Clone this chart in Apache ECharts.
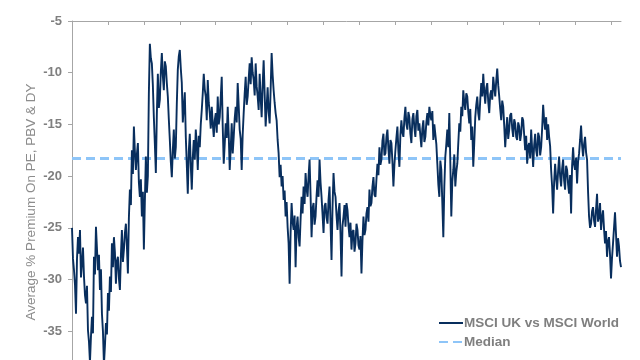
<!DOCTYPE html>
<html>
<head>
<meta charset="utf-8">
<script src="https://cdn.jsdelivr.net/npm/echarts@6/dist/echarts.min.js"></script>
<style>
html,body{margin:0;padding:0;background:#fff;}
#chart{width:640px;height:360px;}
</style>
</head>
<body>
<div id="chart"></div>
<script>
// Series values, one per period
var ukVsWorld = [
-25.0,-28.0,-29.1,-30.5,-33.3,-28.0,-25.9,-27.5,-25.2,-29.8,
-28.4,-26.9,-29.7,-31.5,-32.3,-30.6,-34.9,-36.0,-38.0,-35.5,
-33.6,-35.2,-27.8,-29.5,-24.9,-27.0,-29.1,-27.6,-31.0,-29.0,
-33.3,-35.0,-38.2,-36.4,-34.2,-35.3,-31.3,-33.0,-29.7,-31.2,
-26.5,-28.8,-25.9,-27.4,-30.4,-28.2,-27.8,-29.9,-31.0,-27.6,
-25.2,-28.3,-27.1,-25.5,-24.6,-26.8,-29.4,-24.0,-21.3,-22.8,
-17.5,-19.8,-15.2,-17.6,-19.4,-17.9,-16.8,-20.6,-22.0,-20.3,
-23.9,-21.5,-27.1,-22.4,-18.1,-21.6,-20.0,-12.0,-7.2,-8.6,
-9.1,-11.2,-14.3,-16.9,-19.7,-14.0,-10.1,-13.4,-12.6,-9.9,
-8.1,-10.3,-11.7,-8.9,-9.4,-11.0,-12.3,-14.5,-16.5,-18.6,
-20.1,-17.5,-15.5,-18.3,-17.2,-13.0,-9.7,-8.4,-7.8,-9.6,
-11.0,-14.8,-13.3,-11.9,-16.2,-18.9,-21.7,-17.6,-15.9,-19.0,
-21.3,-18.2,-16.5,-18.4,-15.5,-17.0,-19.4,-16.1,-17.2,-15.0,
-13.6,-12.0,-10.1,-11.6,-12.3,-14.6,-10.7,-12.9,-13.9,-15.4,
-13.3,-14.9,-16.2,-14.6,-13.9,-15.8,-12.3,-15.0,-14.3,-12.4,
-10.4,-15.2,-18.8,-16.9,-14.9,-16.3,-13.3,-15.9,-19.4,-17.3,
-14.9,-17.8,-16.2,-14.4,-13.3,-14.8,-11.0,-13.2,-15.5,-16.4,
-19.4,-16.0,-13.9,-12.0,-10.4,-13.1,-12.3,-10.6,-9.1,-11.1,
-8.5,-10.0,-10.7,-12.2,-9.1,-11.3,-12.3,-13.6,-10.1,-12.4,
-14.3,-11.2,-8.8,-12.0,-15.2,-13.3,-11.4,-13.8,-14.9,-11.6,
-8.1,-10.2,-11.7,-12.9,-13.9,-14.6,-16.5,-17.8,-20.1,-18.9,
-21.0,-20.0,-22.3,-21.4,-23.9,-22.5,-24.9,-26.5,-30.4,-25.5,
-22.6,-24.4,-25.2,-23.8,-28.8,-25.0,-23.9,-25.9,-26.8,-24.2,
-22.0,-23.6,-21.0,-22.7,-19.7,-21.2,-22.0,-20.0,-18.4,-21.8,
-25.9,-23.1,-22.6,-24.7,-23.9,-21.9,-20.4,-22.0,-18.4,-20.6,
-22.0,-23.7,-25.5,-22.9,-22.6,-24.0,-24.6,-22.3,-21.0,-24.5,
-28.1,-23.0,-19.7,-21.5,-22.0,-23.8,-25.2,-23.4,-22.6,-25.6,
-29.7,-24.8,-23.9,-22.8,-24.9,-22.6,-23.3,-24.8,-25.9,-24.5,
-27.1,-25.4,-25.2,-27.3,-26.5,-24.6,-25.2,-26.7,-27.1,-25.8,
-29.4,-26.2,-23.9,-25.7,-25.2,-23.6,-23.0,-24.4,-21.3,-22.9,
-22.6,-21.0,-20.1,-21.8,-22.0,-20.3,-18.8,-19.9,-17.2,-18.9,
-18.4,-16.6,-15.9,-18.0,-17.8,-16.2,-15.5,-17.4,-18.8,-16.5,
-16.8,-18.6,-21.0,-18.9,-17.5,-16.3,-15.2,-17.6,-19.1,-16.0,
-14.6,-15.8,-16.2,-14.4,-13.3,-15.0,-15.5,-13.8,-14.3,-15.9,
-16.8,-14.5,-13.9,-15.3,-16.2,-14.2,-13.6,-15.6,-14.9,-16.1,
-17.2,-15.4,-14.6,-16.7,-16.2,-14.8,-13.9,-15.1,-13.3,-14.1,
-14.6,-13.7,-16.5,-15.0,-14.9,-16.9,-18.8,-20.8,-22.0,-18.5,
-19.4,-22.6,-25.9,-21.0,-18.1,-16.9,-15.5,-17.2,-13.9,-18.6,
-23.9,-20.5,-19.4,-17.9,-21.0,-19.6,-18.8,-16.8,-14.9,-15.7,
-13.3,-14.2,-11.7,-12.9,-13.6,-12.0,-12.3,-13.8,-14.9,-13.5,
-16.5,-15.2,-19.1,-16.8,-14.3,-13.1,-12.3,-13.9,-14.6,-12.6,
-11.0,-12.3,-10.1,-11.8,-13.0,-11.5,-11.0,-12.8,-13.9,-12.1,
-11.7,-12.6,-10.4,-11.4,-12.3,-10.8,-9.6,-11.2,-12.3,-13.5,
-14.6,-12.7,-13.3,-15.1,-17.2,-15.6,-14.3,-16.4,-15.5,-14.1,
-13.9,-15.4,-16.2,-14.5,-14.9,-16.2,-16.5,-14.8,-15.2,-16.6,
-15.9,-14.3,-14.6,-16.0,-17.5,-16.1,-18.8,-17.1,-16.8,-18.3,
-15.5,-17.4,-19.1,-17.0,-15.9,-17.5,-18.1,-15.8,-16.2,-18.0,
-17.2,-15.4,-13.1,-14.6,-15.5,-14.3,-16.5,-15.0,-16.2,-17.1,
-19.4,-21.0,-23.6,-20.6,-18.8,-20.2,-21.3,-19.5,-18.1,-20.0,
-21.0,-19.3,-18.4,-20.4,-21.3,-19.0,-19.4,-20.8,-21.7,-19.9,
-23.6,-19.0,-17.2,-18.9,-19.4,-18.2,-20.7,-18.6,-17.8,-16.5,
-15.1,-17.0,-18.1,-16.9,-16.2,-17.7,-18.4,-21.5,-23.9,-25.0,
-24.6,-23.4,-23.0,-24.3,-24.9,-23.2,-21.7,-24.4,-23.9,-22.6,
-25.2,-24.0,-23.3,-25.1,-26.5,-25.3,-27.8,-26.3,-25.9,-27.6,
-29.9,-27.9,-26.5,-25.0,-23.5,-25.6,-27.8,-26.0,-26.8,-28.2,
-28.8
];
var medianValue = -18.3;
var yTicks = [-40, -35, -30, -25, -20, -15, -10, -5];
var tickEvery = 36; // periods between x-axis tick marks

var categories = ukVsWorld.map(function (v, i) { return String(i + 1); });
var medianLine = categories.map(function () { return medianValue; });

var grey = '#7f7f7f';
var chart = echarts.init(document.getElementById('chart'), null, {renderer: 'canvas'});
chart.setOption({
  animation: false,
  backgroundColor: '#ffffff',
  grid: {left: 72, right: 19, top: 21, height: 362, containLabel: false, outerBoundsMode: 'none'},
  legend: {
    orient: 'vertical',
    left: 433,
    top: 311,
    itemWidth: 24,
    itemHeight: 14,
    itemGap: 5,
    itemStyle: {opacity: 0},
    textStyle: {color: grey, fontSize: 13.5, fontWeight: 'bold', fontFamily: 'Liberation Sans, Arial, sans-serif', padding: [0, 0, 0, -4]},
    data: ['MSCI UK vs MSCI World', 'Median']
  },
  xAxis: {
    type: 'category',
    position: 'top',
    boundaryGap: false,
    data: categories,
    axisLine: {onZero: false, lineStyle: {color: '#a6a6a6', width: 1}},
    axisTick: {
      inside: true, length: 4,
      lineStyle: {color: '#a6a6a6'},
      interval: function (idx) { return idx % tickEvery === 0; }
    },
    axisLabel: {show: false},
    splitLine: {show: false}
  },
  yAxis: {
    type: 'value',
    min: yTicks[0],
    max: yTicks[yTicks.length - 1],
    interval: 5,
    name: 'Average % Premium On PE, PBV & DY',
    nameLocation: 'middle',
    nameGap: 34,
    nameMoveOverlap: false,
    nameTextStyle: {color: '#8c8c8c', fontSize: 13.5, fontFamily: 'Liberation Sans, Arial, sans-serif'},
    axisLine: {show: true, lineStyle: {color: '#a6a6a6', width: 1}},
    axisTick: {show: true, length: 4, lineStyle: {color: '#a6a6a6'}},
    axisLabel: {color: grey, fontSize: 13, fontWeight: 'bold', fontFamily: 'Liberation Sans, Arial, sans-serif', margin: 10},
    splitLine: {show: false}
  },
  series: [
    {
      name: 'MSCI UK vs MSCI World',
      type: 'line',
      data: ukVsWorld,
      symbol: 'none',
      lineStyle: {color: '#082e5d', width: 1.9},
      itemStyle: {color: '#082e5d'},
      z: 3
    },
    {
      name: 'Median',
      type: 'line',
      data: medianLine,
      symbol: 'none',
      lineStyle: {color: '#8ec5f8', width: 3, type: [9, 5]},
      itemStyle: {color: '#8ec5f8'},
      z: 2
    }
  ]
});
</script>
</body>
</html>
